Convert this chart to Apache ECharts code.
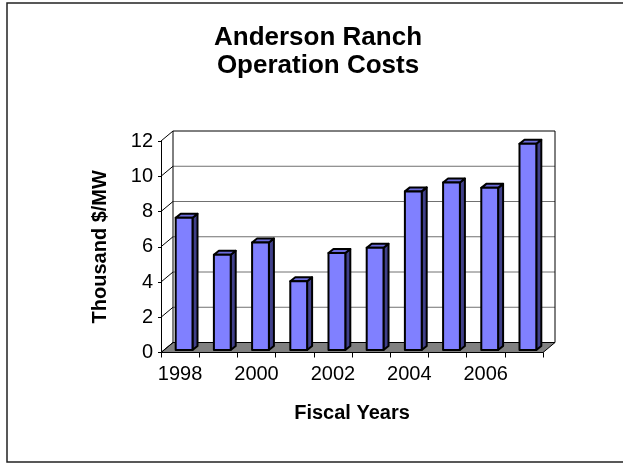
<!DOCTYPE html>
<html><head><meta charset="utf-8">
<script src="https://cdn.jsdelivr.net/npm/echarts@6/dist/echarts.min.js"></script>
<style>html,body{margin:0;padding:0;background:#fff}#c{width:623px;height:464px}</style>
</head><body><div id="c"></div>
<script>
const years = ['1998','1999','2000','2001','2002','2003','2004','2005','2006','2007'];
const costs = [7.5, 5.4, 6.1, 3.9, 5.5, 5.8, 9.0, 9.5, 9.2, 11.7];
const yTicks = [0, 2, 4, 6, 8, 10, 12];
const titleText = 'Anderson Ranch\nOperation Costs';
const xName = 'Fiscal Years';
const yName = 'Thousand $/MW';

const FONT = '"Liberation Sans", Arial, sans-serif';
const DX = 12, DY = -10;
const chart = echarts.init(document.getElementById('c'), null, {renderer: 'canvas'});

function renderWalls(params, api) {
  const cs = params.coordSys;
  const x0 = cs.x, x1 = cs.x + cs.width;
  const yb = api.coord([0, 0])[1];
  const yt = api.coord([0, yTicks[yTicks.length - 1]])[1];
  const children = [];
  children.push({type: 'polygon', shape: {points: [[x0, yb], [x1, yb], [x1 + DX, yb + DY], [x0 + DX, yb + DY]]},
    style: {fill: '#808080', stroke: '#000', lineWidth: 1}});
  yTicks.forEach(function (v, k) {
    const y = api.coord([0, v])[1];
    if (k > 0 && k < yTicks.length - 1) {
      children.push({type: 'line', shape: {x1: x0 + DX, y1: y + DY, x2: x1 + DX, y2: y + DY},
        style: {stroke: '#707070', lineWidth: 1}});
    }
    children.push({type: 'line', shape: {x1: x0, y1: y, x2: x0 + DX, y2: y + DY},
      style: {stroke: '#000', lineWidth: 1}});
  });
  children.push({type: 'polyline', shape: {points: [[x0 + DX, yb + DY], [x0 + DX, yt + DY], [x1 + DX, yt + DY], [x1 + DX, yb + DY]]},
    style: {fill: null, stroke: '#000', lineWidth: 1}});
  return {type: 'group', children: children};
}

function renderBar(params, api) {
  const i = api.value(0), v = api.value(1);
  const top = api.coord([i, v]), base = api.coord([i, 0]);
  const bw = api.size([1, 0])[0];
  const w = bw * 0.44, ox = 4, oy = -2.5, sx = 5, sy = -4;
  const xl = top[0] - w / 2 + ox, xr = xl + w, yt = top[1] + oy, yb = base[1] + oy;
  const st = {stroke: '#000', lineWidth: 2, lineJoin: 'round'};
  return {type: 'group', children: [
    {type: 'polygon', shape: {points: [[xr, yt], [xr + sx, yt + sy], [xr + sx, yb + sy], [xr, yb]]},
      style: Object.assign({fill: '#40408a'}, st)},
    {type: 'polygon', shape: {points: [[xl, yt], [xl + sx, yt + sy], [xr + sx, yt + sy], [xr, yt]]},
      style: Object.assign({fill: '#6c6cdc'}, st)},
    {type: 'rect', shape: {x: xl, y: yt, width: w, height: yb - yt},
      style: Object.assign({fill: '#8080ff'}, st)}
  ]};
}

chart.setOption({
  animation: false,
  backgroundColor: '#fff',
  grid: {left: 161, right: 80, top: 141, bottom: 111.5, containLabel: false},
  graphic: [
    {type: 'rect', shape: {x: 7, y: 3, width: 640, height: 459},
      style: {fill: 'none', stroke: '#222', lineWidth: 1.5}, z: 0},
    {type: 'text', x: 318, y: 24,
      style: {text: titleText, align: 'center', textAlign: 'center', verticalAlign: 'top',
        font: 'bold 26px ' + FONT, fill: '#000', lineHeight: 28}}
  ],
  xAxis: {
    type: 'category', data: years, boundaryGap: true,
    axisLine: {show: true, lineStyle: {color: '#000', width: 1}},
    axisTick: {show: true, interval: 0, length: 5, lineStyle: {color: '#000'}},
    axisLabel: {interval: 1, margin: 12, fontSize: 20, fontFamily: FONT, color: '#000'},
    splitLine: {show: false},
    name: xName, nameLocation: 'middle', nameGap: 51,
    nameTextStyle: {fontSize: 20, fontWeight: 'bold', fontFamily: FONT, color: '#000'}
  },
  yAxis: {
    type: 'value', min: 0, max: 12, interval: 2,
    axisLine: {show: true, lineStyle: {color: '#000', width: 1}},
    axisTick: {show: true, length: 3, lineStyle: {color: '#000'}},
    axisLabel: {margin: 8, fontSize: 20, fontFamily: FONT, color: '#000'},
    splitLine: {show: false},
    name: yName, nameLocation: 'middle', nameGap: 51,
    nameTextStyle: {fontSize: 20, fontWeight: 'bold', fontFamily: FONT, color: '#000'}
  },
  series: [
    {type: 'custom', name: 'walls', renderItem: renderWalls, data: [[0, 0]], z: 1, silent: true, clip: false},
    {type: 'custom', name: 'Cost', renderItem: renderBar, data: costs.map(function (v, i) { return [i, v]; }),
      encode: {x: 0, y: 1}, z: 3, clip: false}
  ]
});
</script>
</body></html>
